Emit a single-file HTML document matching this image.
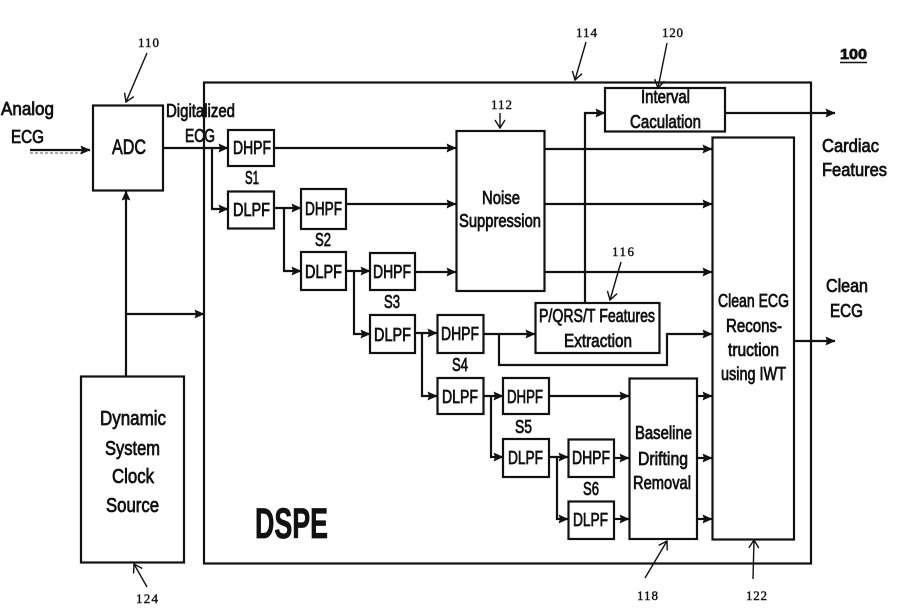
<!DOCTYPE html>
<html><head><meta charset="utf-8"><style>
html,body{margin:0;padding:0;background:#fff}
svg{display:block}
text{font-family:"Liberation Sans",sans-serif;fill:#111;stroke:#111;stroke-width:.75;text-anchor:start}
rect{fill:none;stroke:#111;stroke-width:2.2}
path.l{fill:none;stroke:#111;stroke-width:2.2}
path.t{fill:none;stroke:#111;stroke-width:1.4}
.n text{font-family:"Liberation Serif",serif;stroke-width:.4}
</style></head><body>
<svg width="903" height="608" viewBox="0 0 903 608" xmlns="http://www.w3.org/2000/svg">
<defs>
<marker id="a" markerWidth="10" markerHeight="9" refX="9.5" refY="4.5" orient="auto" markerUnits="userSpaceOnUse"><path d="M0 0L10 4.5L0 9L1.5 4.5Z" fill="#111"/></marker>
<marker id="o" markerWidth="10" markerHeight="12" refX="9" refY="6" orient="auto" markerUnits="userSpaceOnUse"><path d="M1 1L9 6L1 11" fill="none" stroke="#111" stroke-width="1.4"/></marker>
</defs>
<rect x="204" y="82.500" width="607" height="481"/>
<rect x="93" y="105.500" width="70" height="85"/>
<rect x="81" y="376.500" width="103" height="186"/>
<rect x="605" y="88" width="120" height="43.500"/>
<rect x="712.500" y="137.500" width="81.500" height="402"/>
<rect x="456.500" y="131" width="88" height="160"/>
<rect x="535.500" y="303" width="124" height="50"/>
<rect x="629.500" y="378.500" width="67.500" height="160.500"/>
<rect x="228" y="130" width="46" height="36"/>
<rect x="228" y="191.500" width="46" height="37"/>
<rect x="301" y="189" width="45" height="40"/>
<rect x="301" y="252" width="45" height="38"/>
<rect x="370" y="253" width="45" height="37"/>
<rect x="370" y="315" width="45" height="38"/>
<rect x="437.500" y="315" width="46" height="38"/>
<rect x="437.500" y="378" width="46" height="36"/>
<rect x="503" y="378" width="46" height="36"/>
<rect x="503" y="439" width="46" height="38"/>
<rect x="568.500" y="439.500" width="45.500" height="37.500"/>
<rect x="568.500" y="501.500" width="45.500" height="37.500"/>

<path d="M30 153H85" fill="none" stroke="#aaa" stroke-width="2" stroke-dasharray="3 2"/>
<path class="l" marker-end="url(#a)" d="M30 150H90"/>
<path class="l" marker-end="url(#a)" d="M164 148H228"/>
<path class="l" marker-end="url(#a)" d="M212 148V209H228"/>
<path class="l" marker-end="url(#a)" d="M126 377V191"/>
<path class="l" marker-end="url(#a)" d="M126 314H204"/>
<path class="l" marker-end="url(#a)" d="M274 148H456"/>
<path class="l" marker-end="url(#a)" d="M274 208H301"/>
<path class="l" marker-end="url(#a)" d="M284 208V271H301"/>
<path class="l" marker-end="url(#a)" d="M346 204H456"/>
<path class="l" marker-end="url(#a)" d="M346 271H370"/>
<path class="l" marker-end="url(#a)" d="M354 271V334H370"/>
<path class="l" marker-end="url(#a)" d="M415 272H456"/>
<path class="l" marker-end="url(#a)" d="M415 333H437"/>
<path class="l" marker-end="url(#a)" d="M422 333V396H437"/>
<path class="l" marker-end="url(#a)" d="M483 334H535"/>
<path class="l" marker-end="url(#a)" d="M483 396H503"/>
<path class="l" marker-end="url(#a)" d="M491 396V457H503"/>
<path class="l" marker-end="url(#a)" d="M549 396H629"/>
<path class="l" marker-end="url(#a)" d="M549 457H568"/>
<path class="l" marker-end="url(#a)" d="M557 457V519H568"/>
<path class="l" marker-end="url(#a)" d="M614 458H629"/>
<path class="l" marker-end="url(#a)" d="M614 519H629"/>
<path class="l" marker-end="url(#a)" d="M544 149H712"/>
<path class="l" marker-end="url(#a)" d="M544 204H712"/>
<path class="l" marker-end="url(#a)" d="M544 272H712"/>
<path class="l" marker-end="url(#a)" d="M499 334V365H667V334H712"/>
<path class="l" marker-end="url(#a)" d="M585 303V113H605"/>
<path class="l" marker-end="url(#a)" d="M697 396H712"/>
<path class="l" marker-end="url(#a)" d="M697 458H712"/>
<path class="l" marker-end="url(#a)" d="M697 519H712"/>
<path class="l" marker-end="url(#a)" d="M725 113H835"/>
<path class="l" marker-end="url(#a)" d="M794 341H835"/>

<path class="t" marker-end="url(#o)" d="M147 53L126 102"/>
<path class="t" marker-end="url(#o)" d="M586 42L575 80"/>
<path class="t" marker-end="url(#o)" d="M667 43L658 88"/>
<path class="t" marker-end="url(#o)" d="M500 113V128"/>
<path class="t" marker-end="url(#o)" d="M621 262L610 300"/>
<path class="t" marker-end="url(#o)" d="M645 578L667 541"/>
<path class="t" marker-end="url(#o)" d="M753 579L754 540"/>
<path class="t" marker-end="url(#o)" d="M147 587L134 564"/>

<g font-size="18">
<text x="1" y="115" textLength="53" lengthAdjust="spacingAndGlyphs">Analog</text>
<text x="11" y="143" textLength="33" lengthAdjust="spacingAndGlyphs">ECG</text>
<text x="166" y="117" textLength="69" lengthAdjust="spacingAndGlyphs">Digitalized</text>
<text x="185" y="142" textLength="30" lengthAdjust="spacingAndGlyphs">ECG</text>
<text x="112" y="154" font-size="21" textLength="34" lengthAdjust="spacingAndGlyphs">ADC</text>

<text x="233" y="154" textLength="38" lengthAdjust="spacingAndGlyphs">DHPF</text>
<text x="233" y="216" textLength="37" lengthAdjust="spacingAndGlyphs">DLPF</text>
<text x="305" y="215" textLength="37" lengthAdjust="spacingAndGlyphs">DHPF</text>
<text x="305" y="278" textLength="37" lengthAdjust="spacingAndGlyphs">DLPF</text>
<text x="373" y="278" textLength="38" lengthAdjust="spacingAndGlyphs">DHPF</text>
<text x="374" y="341" textLength="37" lengthAdjust="spacingAndGlyphs">DLPF</text>
<text x="441" y="340" textLength="38" lengthAdjust="spacingAndGlyphs">DHPF</text>
<text x="442" y="403" textLength="36" lengthAdjust="spacingAndGlyphs">DLPF</text>
<text x="507" y="403" textLength="36" lengthAdjust="spacingAndGlyphs">DHPF</text>
<text x="508" y="464" textLength="35" lengthAdjust="spacingAndGlyphs">DLPF</text>
<text x="572" y="464" textLength="38" lengthAdjust="spacingAndGlyphs">DHPF</text>
<text x="573" y="526" textLength="35" lengthAdjust="spacingAndGlyphs">DLPF</text>

<text x="245" y="184" textLength="14" lengthAdjust="spacingAndGlyphs">S1</text>
<text x="315" y="246" textLength="16" lengthAdjust="spacingAndGlyphs">S2</text>
<text x="384" y="308" textLength="16" lengthAdjust="spacingAndGlyphs">S3</text>
<text x="452" y="371" textLength="16" lengthAdjust="spacingAndGlyphs">S4</text>
<text x="515" y="433" textLength="17" lengthAdjust="spacingAndGlyphs">S5</text>
<text x="583" y="495" textLength="16" lengthAdjust="spacingAndGlyphs">S6</text>

<text x="482" y="204" textLength="38" lengthAdjust="spacingAndGlyphs">Noise</text>
<text x="459" y="227" textLength="82" lengthAdjust="spacingAndGlyphs">Suppression</text>
<text x="641" y="103" textLength="49" lengthAdjust="spacingAndGlyphs">Interval</text>
<text x="630" y="128" textLength="71" lengthAdjust="spacingAndGlyphs">Caculation</text>
<text x="539" y="322" textLength="116" lengthAdjust="spacingAndGlyphs">P/QRS/T Features</text>
<text x="564" y="347" textLength="68" lengthAdjust="spacingAndGlyphs">Extraction</text>
<text x="635" y="439" textLength="57" lengthAdjust="spacingAndGlyphs">Baseline</text>
<text x="638" y="465" textLength="50" lengthAdjust="spacingAndGlyphs">Drifting</text>
<text x="633" y="489" textLength="58" lengthAdjust="spacingAndGlyphs">Removal</text>
<text x="718" y="307" textLength="71" lengthAdjust="spacingAndGlyphs">Clean ECG</text>
<text x="726" y="332" textLength="56" lengthAdjust="spacingAndGlyphs">Recons-</text>
<text x="728" y="356" textLength="51" lengthAdjust="spacingAndGlyphs">truction</text>
<text x="721" y="380" textLength="65" lengthAdjust="spacingAndGlyphs">using IWT</text>
<text x="822" y="152" textLength="57" lengthAdjust="spacingAndGlyphs">Cardiac</text>
<text x="822" y="176" textLength="65" lengthAdjust="spacingAndGlyphs">Features</text>
<text x="826" y="292" textLength="42" lengthAdjust="spacingAndGlyphs">Clean</text>
<text x="830" y="317" textLength="33" lengthAdjust="spacingAndGlyphs">ECG</text>
</g>
<g font-size="20">
<text x="100" y="425" textLength="66" lengthAdjust="spacingAndGlyphs">Dynamic</text>
<text x="105" y="455" textLength="55" lengthAdjust="spacingAndGlyphs">System</text>
<text x="112" y="483" textLength="42" lengthAdjust="spacingAndGlyphs">Clock</text>
<text x="106" y="512" textLength="53" lengthAdjust="spacingAndGlyphs">Source</text>
</g>
<text x="255" y="538" font-size="43" font-weight="bold" textLength="73" lengthAdjust="spacingAndGlyphs">DSPE</text>
<text x="840" y="59" font-size="15" font-weight="bold" textLength="27" lengthAdjust="spacingAndGlyphs">100</text>
<path d="M840 62.500H867" stroke="#111" stroke-width="1.500" fill="none"/>
<g class="n" font-size="13">
<text x="138" y="47" textLength="21">110</text>
<text x="576" y="37" textLength="21">114</text>
<text x="662" y="37" textLength="21">120</text>
<text x="491" y="109" textLength="21">112</text>
<text x="612" y="256" textLength="22">116</text>
<text x="637" y="600" textLength="21">118</text>
<text x="746" y="600" textLength="21">122</text>
<text x="136" y="603" textLength="22">124</text>
</g>
</svg>
</body></html>
